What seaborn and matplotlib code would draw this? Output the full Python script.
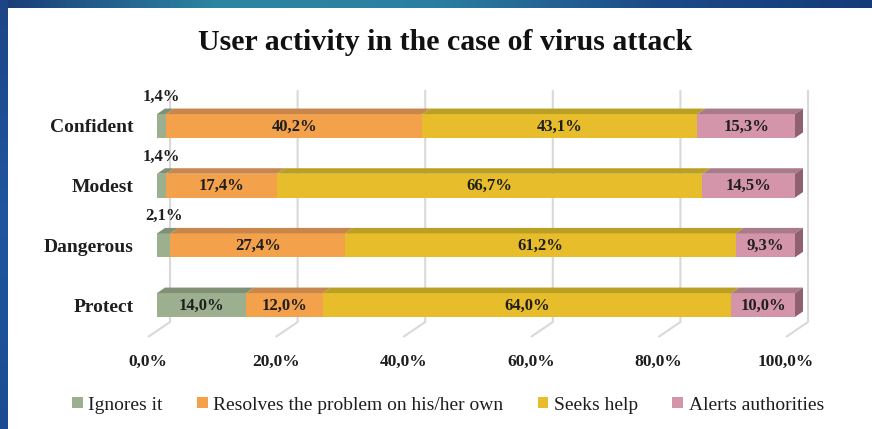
import numpy as np
import pandas as pd
import matplotlib
matplotlib.use("Agg")
import matplotlib.pyplot as plt
from matplotlib.patches import Polygon, Patch
from matplotlib.colors import LinearSegmentedColormap
import seaborn as sns

# ---- data ----
categories = ["Confident", "Modest", "Dangerous", "Protect"]
series_names = ["Ignores it", "Resolves the problem on his/her own",
                "Seeks help", "Alerts authorities"]
ignores = [1.4, 1.4, 2.1, 14.0]
resolves = [40.2, 17.4, 27.4, 12.0]
seeks = [43.1, 66.7, 61.2, 64.0]
alerts = [15.3, 14.5, 9.3, 10.0]
tick_values = [0, 20, 40, 60, 80, 100]
tick_labels = ["0,0%", "20,0%", "40,0%", "60,0%", "80,0%", "100,0%"]
title = "User activity in the case of virus attack"

front_colors = ["#9CB08F", "#F3A14B", "#E8BD2B", "#D495AA"]
top_colors = ["#7F9074", "#C9864A", "#B9A023", "#A97A8A"]
side_color = "#8F5F72"

series = [ignores, resolves, seeks, alerts]

sns.set_theme(style="white")
serif = ["Liberation Serif", "DejaVu Serif"]
plt.rcParams["font.family"] = serif
text_color = "#1E1E1E"

W, H = 872, 429
fig = plt.figure(figsize=(W / 100, H / 100), dpi=100)
fig.patch.set_facecolor("white")

# plot area: x 0..100 spans the front face, rows spaced evenly
px_left, px_right = 157, 795
px_top, px_bottom = 90, 325
y0_px, row_px = 126, 59.67
ax = fig.add_axes([px_left / W, 1 - px_bottom / H,
                   (px_right - px_left) / W, (px_bottom - px_top) / H])

# cumulative totals, drawn from the longest down so each stack shows
df = pd.DataFrame({"category": categories})
cums = np.cumsum(np.array(series), axis=0)
bar_h = 0.40
for k in range(len(series) - 1, -1, -1):
    df["cum"] = cums[k]
    sns.barplot(data=df, x="cum", y="category", order=categories, orient="h",
                color=front_colors[k], saturation=1, width=bar_h, ax=ax,
                zorder=3, linewidth=0)

ylim_top = (px_top - y0_px) / row_px
ylim_bot = (px_bottom - y0_px) / row_px
ax.set_xlim(0, 100)
ax.set_ylim(ylim_bot, ylim_top)

# 3D depth offsets in data units
ddx = 8 / (px_right - px_left) * 100
ddy = 5.5 / row_px
gdx = 13 / (px_right - px_left) * 100
floor_dx = -22 / (px_right - px_left) * 100
floor_dy = 15 / row_px
grid_bottom = (322 - y0_px) / row_px

# back wall gridlines and floor edges
for v in tick_values:
    xb = v + gdx
    ax.plot([xb, xb, xb + floor_dx], [ylim_top, grid_bottom, grid_bottom + floor_dy],
            color="#D9D9D9", lw=1.5, zorder=1, clip_on=False, solid_capstyle="butt")

for i, cat in enumerate(categories):
    yt = i - bar_h / 2
    yb = i + bar_h / 2
    left = 0.0
    for k in range(len(series)):
        val = series[k][i]
        right = left + val
        ax.add_patch(Polygon([(left, yt), (right, yt), (right + ddx, yt - ddy),
                              (left + ddx, yt - ddy)], closed=True,
                             facecolor=top_colors[k], edgecolor="none",
                             zorder=4, clip_on=False))
        label = f"{val:.1f}".replace(".", ",") + "%"
        xc = (left + right) / 2
        if val < 5:
            ax.text(xc, i - 0.49, label, ha="center", va="center", fontsize=12,
                    fontweight="bold", color=text_color, zorder=6, clip_on=False)
        else:
            ax.text(xc, i + 0.01, label, ha="center", va="center", fontsize=12,
                    fontweight="bold", color=text_color, zorder=6)
        left = right
    ax.add_patch(Polygon([(left, yt), (left + ddx, yt - ddy), (left + ddx, yb - ddy),
                          (left, yb)], closed=True, facecolor=side_color,
                         edgecolor="none", zorder=4, clip_on=False))

# value axis labels at the floor front edge
tick_y = (362 - y0_px) / row_px
for v, lab in zip(tick_values, tick_labels):
    ax.text(v + gdx + floor_dx, tick_y, lab, ha="center", va="center",
            fontsize=12.5, fontweight="bold", color=text_color, clip_on=False)

ax.set_xticks([])
ax.set_xlabel("")
ax.set_ylabel("")
ax.tick_params(axis="y", length=0, pad=17)
for t in ax.get_yticklabels():
    t.set_fontsize(14)
    t.set_fontweight("bold")
    t.set_color(text_color)
for s in ax.spines.values():
    s.set_visible(False)
ax.set_facecolor("none")

fig.text(445 / W, 1 - 42 / H, title, ha="center", va="center", fontsize=21.5,
         fontweight="bold", color="#111111")

handles = [Patch(facecolor=c, edgecolor="none") for c in front_colors]
fig.legend(handles, series_names, loc="center", bbox_to_anchor=(448 / W, 1 - 405 / H),
           ncol=4, frameon=False, fontsize=14, handlelength=0.55, handleheight=0.55,
           handletextpad=0.3, columnspacing=1.75, labelcolor=text_color)

# blue frame along the top and left edges
cmap_top = LinearSegmentedColormap.from_list(
    "frame", ["#1B3C78", "#2C86A2", "#2A7FA0", "#1C4A88", "#143A7A"])
bar_ax = fig.add_axes([0, 1 - 8 / H, 1, 8 / H])
bar_ax.imshow(np.linspace(0, 1, 256)[None, :], aspect="auto", cmap=cmap_top)
bar_ax.axis("off")
cmap_left = LinearSegmentedColormap.from_list("frame_l", ["#1D4586", "#1F56A0", "#1B4C92"])
side_ax = fig.add_axes([0, 0, 7 / W, 1])
side_ax.imshow(np.linspace(0, 1, 256)[:, None], aspect="auto", cmap=cmap_left)
side_ax.axis("off")

fig.savefig("out.png", dpi=100)
